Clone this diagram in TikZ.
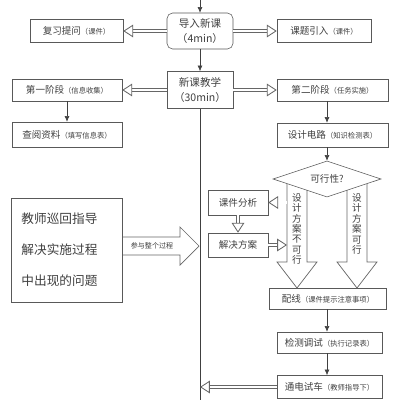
\documentclass[tikz,border=0pt]{standalone}
\usepackage{fontspec}
\setmainfont{Noto Sans CJK SC}
\usetikzlibrary{arrows.meta,shapes.geometric}

\newcommand{\anno}[1]{{\fontsize{5.2}{6}\selectfont #1}}

\begin{document}
\begin{tikzpicture}[x=0.25mm, y=-0.25mm,
  box/.style={draw=black!65, fill=white, text=black!75, inner sep=0pt, font=\fontsize{6.8}{8}\selectfont},
  arr/.style={draw=black!75, -{Latex[length=4pt,width=3.5pt]}},
  dbl/.style={draw=black!60, line width=0.6pt, double=white, double distance=1.5pt, -{Triangle[open,length=7pt,width=9pt]}},
  blk/.style={draw=black!60, fill=white, line width=0.5pt},
  vtext/.style={text=black!75, align=center, inner sep=0pt, font=\fontsize{6.8}{7.4}\selectfont}]

\useasboundingbox (0,0) rectangle (400,400);

\coordinate (top) at (200,0);
\coordinate (bot) at (200,400);

% main column
\node[box, rounded corners=4pt, minimum width=16.5mm, minimum height=9mm, align=center, font=\fontsize{7.5}{11}\selectfont] (intro) at (200,31) {导入新课\\（4min）};
\node[box, minimum width=16.5mm, minimum height=9.25mm, align=center, font=\fontsize{7.5}{11}\selectfont] (teach) at (200,90) {新课教学\\（30min）};

\node[box, minimum width=23.25mm, minimum height=5.75mm] (review) at (76.5,31) {复习提问\anno{（课件）}};
\node[box, minimum width=23.5mm, minimum height=5.75mm] (topic) at (324,31) {课题引入\anno{（课件）}};

% left side
\node[box, minimum width=27.5mm, minimum height=5.5mm] (stage1) at (67,90) {第一阶段\anno{（信息收集）}};
\node[box, minimum width=27.5mm, minimum height=6.25mm] (consult) at (67,134.5) {查阅资料\anno{（填写信息表）}};

% right side
\node[box, minimum width=27.75mm, minimum height=5.5mm] (stage2) at (332.5,90) {第二阶段\anno{（任务实施）}};
\node[box, minimum width=27.75mm, minimum height=6mm] (circuit) at (332.5,135) {设计电路\anno{（知识检测表）}};

\node[box, minimum width=29.25mm, minimum height=5.25mm] (wiring) at (328,298.5) {配线\anno{（课件提示注意事项）}};
\node[box, minimum width=26.25mm, minimum height=5.25mm] (test) at (329.5,342.5) {检测调试\anno{（执行记录表）}};
\node[box, minimum width=26.25mm, minimum height=5.75mm] (power) at (329.5,387) {通电试车\anno{（教师指导下）}};

% big arrows under the decision
\draw[blk] (287,182) -- (287,262) -- (277,262) -- (297,288) -- (317,262) -- (307,262) -- (307,182);
\draw[blk] (347,182) -- (347,262) -- (337,262) -- (357,288) -- (377,262) -- (367,262) -- (367,182);
\node[vtext] (nogo) at (297,229) {设\\计\\方\\案\\不\\可\\行};
\node[vtext] (go) at (357,224) {设\\计\\方\\案\\可\\行};

\node[box, diamond, aspect=3, minimum width=27mm, minimum height=9mm] (feas) at (327,179) {可行性?};

\node[box, minimum width=15mm, minimum height=6.25mm] (analysis) at (238,202.5) {课件分析};
\node[box, minimum width=15mm, minimum height=6mm] (solve) at (238,245) {解决方案};
\coordinate (shaftA) at (287,202.5);
\coordinate (shaftB) at (287,245);

% teacher
\draw[blk] (122.5,237) -- (180,237) -- (180,227) -- (199,246) -- (180,265) -- (180,255) -- (122.5,255);
\node[text=black!75, font=\fontsize{5}{6}\selectfont] (joinall) at (152,246) {参与整个过程};
\node[box, minimum height=26mm, text width=22.75mm, inner xsep=2.5mm, align=left, font=\fontsize{9}{22}\selectfont] (teacher) at (67,250) {教师巡回指导\\解决实施过程\\中出现的问题};

% connectors
\draw[arr] (top) -- (intro);
\draw[arr] (intro) -- (teach);
\draw[black!75] (teach) -- (bot);
\draw[dbl] (intro) -- (review);
\draw[dbl] (intro) -- (topic);
\draw[dbl] (teach) -- (stage1);
\draw[dbl] (teach) -- (stage2);
\draw[arr] (stage1) -- (consult);
\draw[arr] (stage2.south -| feas) -- (circuit.north -| feas);
\draw[arr] (circuit.south -| feas) -- (feas);
\draw[dbl] (shaftA) -- (analysis);
\draw[dbl] (analysis) -- (solve);
\draw[dbl] (solve) -- (shaftB);
\draw[arr] (wiring.south -| feas) -- (test.north -| feas);
\draw[arr] (test.south -| feas) -- (power.north -| feas);
\draw[dbl] (power) -- (power -| bot);
\end{tikzpicture}
\end{document}
